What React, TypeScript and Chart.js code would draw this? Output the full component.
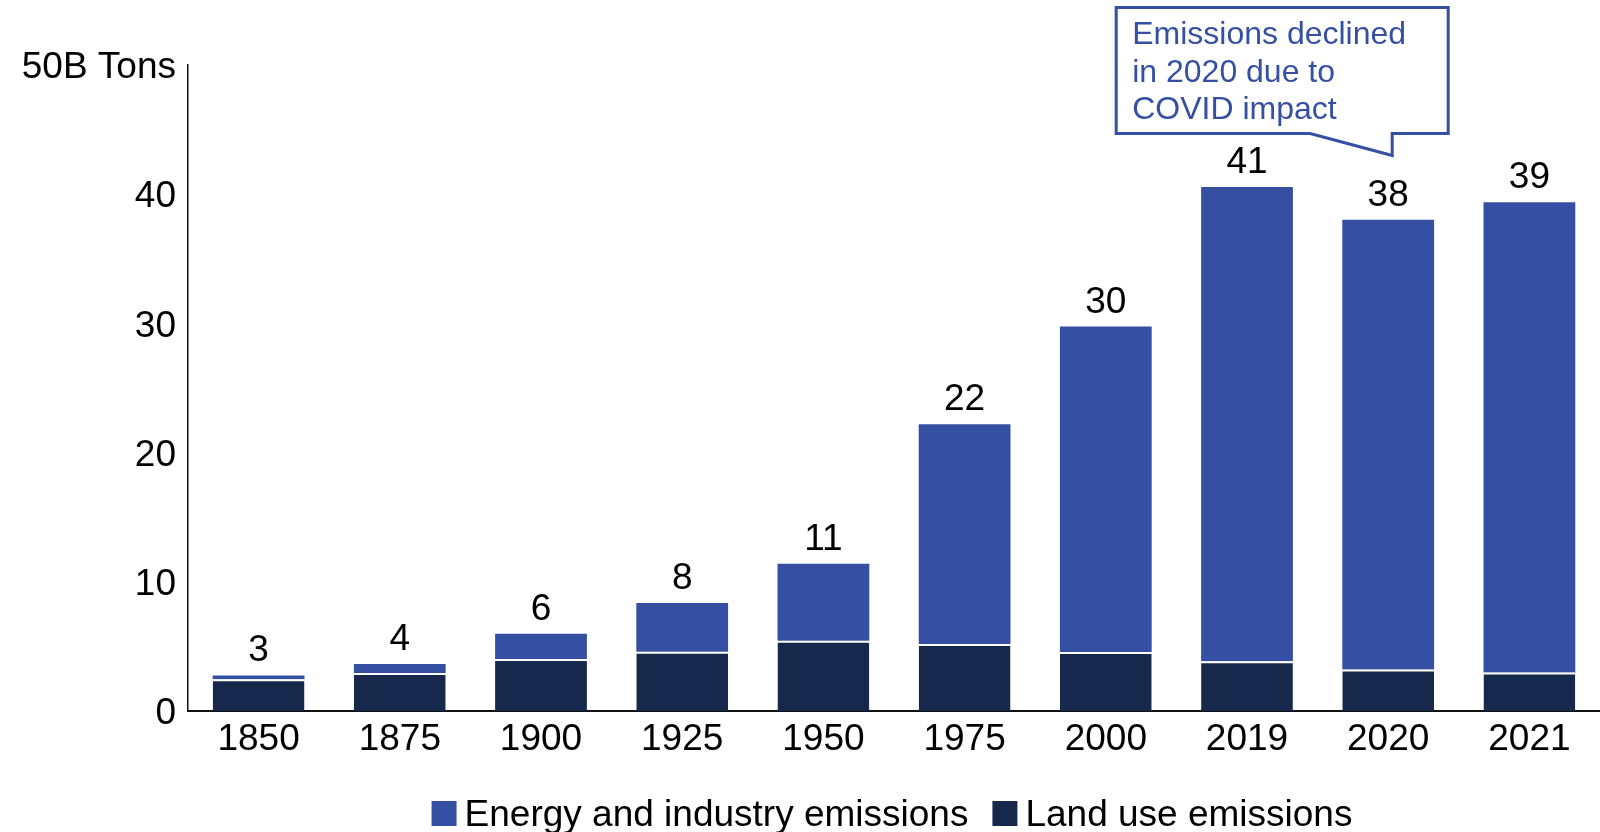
import React, { useEffect, useRef } from "react";
import { Chart, registerables } from "chart.js";

Chart.register(...registerables);

// Global CO2 emissions by source, billions of tons
const years = ["1850", "1875", "1900", "1925", "1950", "1975", "2000", "2019", "2020", "2021"];
const landUse = [2.45, 2.94, 4.02, 4.59, 5.43, 5.19, 4.56, 3.85, 3.22, 2.98];
const energyIndustry = [0.3, 0.7, 1.96, 3.77, 5.97, 17.0, 25.2, 36.7, 34.8, 36.4];
const yTicks = [0, 10, 20, 30, 40, 50];
const topTickLabel = "50B Tons";
const calloutLines = ["Emissions declined", "in 2020 due to", "COVID impact"];
const calloutYear = "2020";
const calloutValue = 43;

const ENERGY = "#3550a2";
const LAND = "#16294d";
const FONT = '"Liberation Sans", Arial, Helvetica, sans-serif';
const SIZE = 37;

const totalsPlugin = {
  id: "totals",
  afterDatasetsDraw(chart: any) {
    const { ctx } = chart;
    const top = chart.getDatasetMeta(1);
    ctx.save();
    ctx.font = `${SIZE}px ${FONT}`;
    ctx.fillStyle = "#000";
    ctx.textAlign = "center";
    ctx.textBaseline = "alphabetic";
    years.forEach((_, i) => {
      const bar = top.data[i];
      const total = landUse[i] + energyIndustry[i];
      ctx.fillText(String(Math.round(total)), bar.x, bar.y - 14);
    });
    ctx.restore();
  },
};

const calloutPlugin = {
  id: "callout",
  afterDraw(chart: any) {
    const { ctx, scales } = chart;
    const tipX = scales.x.getPixelForValue(years.indexOf(calloutYear)) + 4;
    const tipY = scales.y.getPixelForValue(calloutValue);
    const left = tipX - 276;
    const right = tipX + 56;
    const top = tipY - 148;
    const bottom = tipY - 22;
    const tailLeft = tipX - 82;
    ctx.save();
    ctx.beginPath();
    ctx.moveTo(left, top);
    ctx.lineTo(right, top);
    ctx.lineTo(right, bottom);
    ctx.lineTo(tipX, bottom);
    ctx.lineTo(tipX, tipY);
    ctx.lineTo(tailLeft, bottom);
    ctx.lineTo(left, bottom);
    ctx.closePath();
    ctx.fillStyle = "#fff";
    ctx.fill();
    ctx.lineWidth = 3;
    ctx.lineJoin = "miter";
    ctx.strokeStyle = ENERGY;
    ctx.stroke();
    ctx.font = `32px ${FONT}`;
    ctx.fillStyle = ENERGY;
    ctx.textAlign = "left";
    ctx.textBaseline = "alphabetic";
    calloutLines.forEach((line, i) => {
      ctx.fillText(line, left + 16, top + 37 + i * 37.5);
    });
    ctx.restore();
  },
};

const legendPlugin = {
  id: "bottomLegend",
  afterDraw(chart: any) {
    const { ctx, chartArea } = chart;
    const items = [
      { label: "Energy and industry emissions", color: ENERGY },
      { label: "Land use emissions", color: LAND },
    ];
    const box = 25;
    const gap = 8;
    const between = 24;
    ctx.save();
    ctx.font = `${SIZE}px ${FONT}`;
    const widths = items.map((it) => box + gap + ctx.measureText(it.label).width);
    const total = widths.reduce((a, b) => a + b, 0) + between * (items.length - 1);
    let x = (chartArea.left + chartArea.right) / 2 - total / 2 - 2;
    const baseline = 826;
    ctx.textBaseline = "alphabetic";
    ctx.textAlign = "left";
    items.forEach((it, i) => {
      ctx.fillStyle = it.color;
      ctx.fillRect(x, baseline - box, box, box);
      ctx.fillStyle = "#000";
      ctx.fillText(it.label, x + box + gap, baseline);
      x += widths[i] + between;
    });
    ctx.restore();
  },
};

export default function App() {
  const canvasRef = useRef<HTMLCanvasElement | null>(null);

  useEffect(() => {
    if (!canvasRef.current) return;
    const chart = new Chart(canvasRef.current, {
      type: "bar",
      data: {
        labels: years,
        datasets: [
          {
            label: "Land use emissions",
            data: landUse,
            backgroundColor: LAND,
            borderColor: "#ffffff",
            borderWidth: { top: 2, left: 0, right: 0, bottom: 0 },
            borderSkipped: false,
          },
          {
            label: "Energy and industry emissions",
            data: energyIndustry,
            backgroundColor: ENERGY,
            borderWidth: 0,
          },
        ],
      },
      options: {
        responsive: true,
        maintainAspectRatio: false,
        animation: false,
        layout: { padding: { top: 65, right: 0, bottom: 0, left: 0 } },
        datasets: {
          bar: { categoryPercentage: 1, barPercentage: 0.65 },
        },
        plugins: {
          legend: { display: false },
          tooltip: { enabled: false },
          title: { display: false },
        },
        scales: {
          x: {
            stacked: true,
            grid: { display: false, drawTicks: false },
            border: { display: true, color: "#111", width: 2 },
            ticks: {
              color: "#000",
              font: { family: FONT, size: SIZE },
              padding: 7,
              maxRotation: 0,
              autoSkip: false,
            },
            afterFit(scale: any) {
              scale.height = 121;
            },
          },
          y: {
            stacked: true,
            min: 0,
            max: 50,
            grid: { display: false, drawTicks: false },
            border: { display: true, color: "#111", width: 1.5 },
            afterBuildTicks(scale: any) {
              scale.ticks = yTicks.map((v) => ({ value: v }));
            },
            ticks: {
              color: "#000",
              font: { family: FONT, size: SIZE },
              padding: 12,
              labelOffset: 3,
              callback: (v: any) => (v === 50 ? topTickLabel : String(v)),
            },
            afterFit(scale: any) {
              scale.width = 188;
            },
          },
        },
      },
      plugins: [totalsPlugin, calloutPlugin, legendPlugin],
    });
    return () => chart.destroy();
  }, []);

  return (
    <div style={{ position: "absolute", left: 0, top: 0, width: 1600, height: 832, background: "#fff" }}>
      <canvas ref={canvasRef} />
    </div>
  );
}
